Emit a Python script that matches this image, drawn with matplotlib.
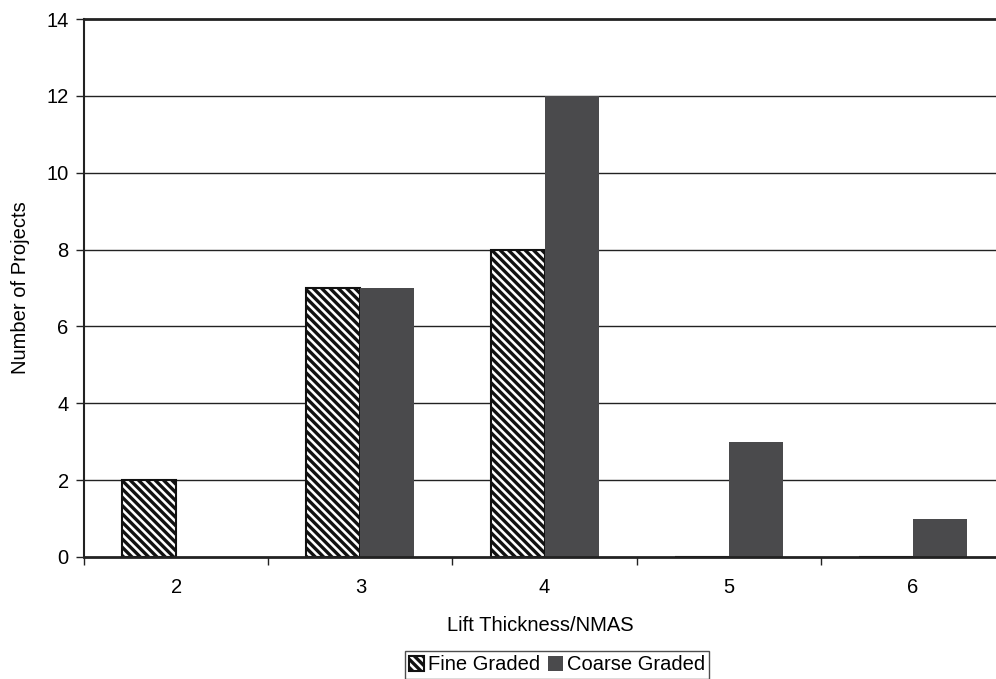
import matplotlib
matplotlib.use("Agg")
import matplotlib.pyplot as plt
import numpy as np

plt.rcParams['font.family'] = ['Liberation Sans', 'DejaVu Sans']
plt.rcParams['hatch.linewidth'] = 2.4
plt.rcParams['hatch.color'] = 'black'

categories = ["2", "3", "4", "5", "6"]
fine_graded = [2, 7, 8, 0, 0]
coarse_graded = [0, 7, 12, 3, 1]
y_ticks = [0, 2, 4, 6, 8, 10, 12, 14]

W, H = 996, 679
fig = plt.figure(figsize=(W / 100, H / 100), dpi=100)
ax = fig.add_axes([84 / W, (H - 557) / H, (996 - 84) / W, (557 - 19) / H])

x = np.arange(len(categories))
bw = 0.293
fs = 14.5

ax.bar(x - bw / 2, fine_graded, bw, facecolor='white', edgecolor='#111111',
       hatch='\\\\\\\\', linewidth=1.5, label='Fine Graded', zorder=2)
ax.bar(x + bw / 2, coarse_graded, bw, color='#4a4a4c', linewidth=0,
       label='Coarse Graded', zorder=2)

ax.set_xlim(-0.5, 4.45)
ax.set_ylim(0, 14)
ax.set_yticks(y_ticks)
for yv in y_ticks[1:-1]:
    ax.axhline(yv, color='#222222', linewidth=1.0, zorder=1)

ax.set_xticks(x)
ax.set_xticklabels(categories)
ax.set_xticks(np.arange(-0.5, 4.5, 1.0), minor=True)
ax.tick_params(axis='x', which='major', length=0, pad=15, labelsize=fs)
ax.tick_params(axis='x', which='minor', length=6, width=1, direction='out', color='#222222')
ax.tick_params(axis='y', length=6, width=1, direction='out', labelsize=fs,
               pad=5, color='#222222')

for side in ['left', 'bottom', 'top']:
    ax.spines[side].set_color('#222222')
    ax.spines[side].set_zorder(3)
ax.spines['left'].set_linewidth(1.5)
ax.spines['bottom'].set_linewidth(2.0)
ax.spines['top'].set_linewidth(2.0)
ax.spines['right'].set_visible(False)

ax.set_ylabel('Number of Projects', fontsize=fs, labelpad=12)
ax.set_xlabel('Lift Thickness/NMAS', fontsize=fs, labelpad=14)

leg = fig.legend(loc='center', bbox_to_anchor=(557 / W, 1 - 665 / H), ncol=2,
                 fontsize=fs, frameon=True, fancybox=False, handlelength=0.75,
                 handleheight=0.75, handletextpad=0.2, columnspacing=0.35,
                 borderpad=0.2, borderaxespad=0)
leg.get_frame().set_edgecolor('#222222')
leg.get_frame().set_linewidth(1.0)

fig.savefig('out.png', dpi=100)
